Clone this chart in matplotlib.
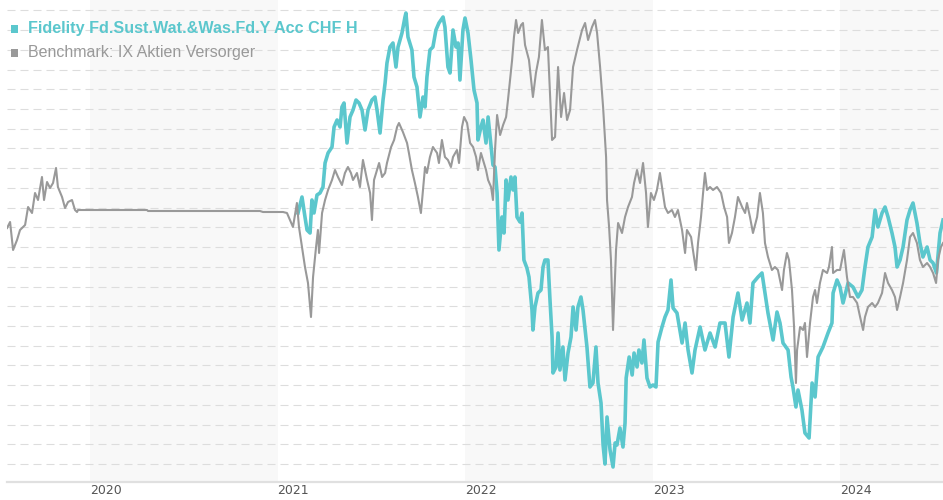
import numpy as np
import matplotlib
matplotlib.use("Agg")
import matplotlib.pyplot as plt
from matplotlib.patches import Rectangle

# values: x in decimal years, y in chart points (grid step ~19.7)
bench_t = [2019.558, 2019.574, 2019.590, 2019.611, 2019.627, 2019.654, 2019.670, 2019.691,
           2019.707, 2019.723, 2019.744, 2019.755, 2019.771, 2019.787, 2019.803, 2019.819,
           2019.829, 2019.851, 2019.867, 2019.883, 2019.904, 2019.920, 2019.931, 2019.936,
           2020.304, 2020.309, 2020.906, 2020.922, 2021.029, 2021.050, 2021.066, 2021.082,
           2021.103, 2021.114, 2021.130, 2021.146, 2021.162, 2021.178, 2021.189, 2021.205,
           2021.215, 2021.221, 2021.237, 2021.253, 2021.269, 2021.290, 2021.306, 2021.322,
           2021.343, 2021.359, 2021.375, 2021.391, 2021.402, 2021.423, 2021.439, 2021.455,
           2021.477, 2021.493, 2021.503, 2021.514, 2021.530, 2021.541, 2021.557, 2021.573,
           2021.583, 2021.605, 2021.621, 2021.637, 2021.647, 2021.668, 2021.690, 2021.700,
           2021.716, 2021.732, 2021.748, 2021.764, 2021.775, 2021.786, 2021.796, 2021.812,
           2021.828, 2021.850, 2021.860, 2021.876, 2021.892, 2021.908, 2021.924, 2021.935,
           2021.956, 2021.967, 2021.983, 2021.994, 2022.010, 2022.026, 2022.042, 2022.058,
           2022.068, 2022.084, 2022.095, 2022.111, 2022.122, 2022.138, 2022.148, 2022.159,
           2022.170, 2022.186, 2022.202, 2022.218, 2022.228, 2022.239, 2022.250, 2022.260,
           2022.271, 2022.282, 2022.298, 2022.308, 2022.319, 2022.340, 2022.361, 2022.377,
           2022.393, 2022.409, 2022.425, 2022.441, 2022.463, 2022.479, 2022.495, 2022.511,
           2022.527, 2022.543, 2022.559, 2022.575, 2022.596, 2022.623, 2022.639, 2022.655,
           2022.676, 2022.692, 2022.703, 2022.719, 2022.735, 2022.751, 2022.756, 2022.767,
           2022.777, 2022.788, 2022.804, 2022.815, 2022.836, 2022.852, 2022.868, 2022.889,
           2022.900, 2022.916, 2022.932, 2022.948, 2022.964, 2022.974, 2022.990, 2023.006,
           2023.022, 2023.038, 2023.054, 2023.065, 2023.081, 2023.102, 2023.118, 2023.134,
           2023.156, 2023.172, 2023.182, 2023.204, 2023.214, 2023.230, 2023.241, 2023.257,
           2023.268, 2023.278, 2023.289, 2023.305, 2023.321, 2023.342, 2023.364, 2023.380,
           2023.396, 2023.406, 2023.422, 2023.438, 2023.454, 2023.476, 2023.492, 2023.502,
           2023.518, 2023.534, 2023.556, 2023.571, 2023.587, 2023.598, 2023.614, 2023.635,
           2023.651, 2023.667, 2023.689, 2023.699, 2023.715, 2023.726, 2023.742, 2023.753,
           2023.763, 2023.769, 2023.785, 2023.801, 2023.811, 2023.822, 2023.838, 2023.854,
           2023.865, 2023.875, 2023.891, 2023.907, 2023.929, 2023.939, 2023.955, 2023.961,
           2023.982, 2023.998, 2024.019, 2024.035, 2024.051, 2024.067, 2024.089, 2024.105,
           2024.121, 2024.131, 2024.147, 2024.169, 2024.185, 2024.200, 2024.222, 2024.238,
           2024.254, 2024.275, 2024.291, 2024.302, 2024.318, 2024.334, 2024.355, 2024.371,
           2024.387, 2024.408, 2024.424, 2024.440, 2024.462, 2024.478, 2024.494, 2024.510,
           2024.520, 2024.536, 2024.547]
bench_v = [236, 242, 214, 224, 234, 239, 257, 251,
           271, 264, 287, 264, 282, 276, 281, 296,
           277, 267, 256, 262, 264, 254, 252, 254,
           254, 253, 253, 252, 252, 251, 244, 237,
           261, 237, 217, 197, 181, 147, 187, 217,
           234, 211, 251, 264, 274, 284, 294, 287,
           279, 291, 297, 291, 284, 291, 277, 304,
           284, 271, 244, 284, 294, 301, 287, 291,
           301, 317, 324, 337, 341, 332, 321, 311,
           294, 281, 267, 251, 274, 297, 291, 307,
           317, 311, 301, 324, 307, 304, 297, 307,
           314, 301, 337, 347, 341, 321, 317, 307,
           294, 311, 304, 294, 284, 277, 264, 314,
           349, 329, 339, 347, 364, 384, 404, 427,
           444, 431, 439, 441, 419, 404, 367, 391,
           407, 444, 414, 417, 324, 327, 397, 347,
           371, 344, 354, 397, 414, 434, 441, 424,
           437, 444, 431, 397, 357, 307, 264, 237,
           204, 134, 214, 241, 231, 247, 257, 267,
           281, 294, 281, 301, 271, 237, 271, 264,
           274, 291, 271, 257, 251, 254, 247, 254,
           234, 211, 234, 227, 214, 194, 221, 247,
           271, 291, 274, 277, 274, 277, 271, 257,
           247, 221, 231, 247, 267, 257, 251, 261,
           247, 231, 247, 271, 251, 221, 207, 194,
           197, 194, 174, 194, 211, 204, 174, 137,
           81, 114, 137, 134, 141, 107, 141, 167,
           174, 161, 181, 194, 191, 197, 217, 191,
           194, 194, 214, 187, 167, 167, 161, 147,
           134, 147, 157, 161, 157, 161, 171, 191,
           181, 174, 167, 154, 167, 181, 204, 227,
           231, 221, 204, 197, 201, 197, 191, 181,
           204, 217, 221]

fund_t = [2021.109, 2021.130, 2021.146, 2021.157, 2021.173, 2021.183, 2021.194, 2021.210,
          2021.226, 2021.242, 2021.253, 2021.269, 2021.290, 2021.301, 2021.317, 2021.333,
          2021.343, 2021.354, 2021.370, 2021.386, 2021.402, 2021.418, 2021.434, 2021.450,
          2021.466, 2021.482, 2021.503, 2021.519, 2021.530, 2021.546, 2021.562, 2021.573,
          2021.583, 2021.599, 2021.615, 2021.631, 2021.642, 2021.663, 2021.679, 2021.684,
          2021.695, 2021.716, 2021.727, 2021.743, 2021.759, 2021.775, 2021.786, 2021.796,
          2021.812, 2021.828, 2021.844, 2021.860, 2021.882, 2021.892, 2021.908, 2021.919,
          2021.935, 2021.951, 2021.962, 2021.972, 2021.988, 2021.999, 2022.015, 2022.031,
          2022.047, 2022.063, 2022.068, 2022.084, 2022.095, 2022.111, 2022.122, 2022.138,
          2022.148, 2022.159, 2022.170, 2022.180, 2022.196, 2022.207, 2022.218, 2022.228,
          2022.244, 2022.255, 2022.265, 2022.276, 2022.292, 2022.303, 2022.313, 2022.329,
          2022.340, 2022.356, 2022.361, 2022.372, 2022.388, 2022.404, 2022.415, 2022.425,
          2022.441, 2022.452, 2022.463, 2022.468, 2022.484, 2022.495, 2022.505, 2022.521,
          2022.532, 2022.548, 2022.564, 2022.575, 2022.591, 2022.601, 2022.617, 2022.628,
          2022.649, 2022.665, 2022.681, 2022.697, 2022.708, 2022.724, 2022.735, 2022.745,
          2022.756, 2022.772, 2022.788, 2022.799, 2022.809, 2022.825, 2022.841, 2022.852,
          2022.858, 2022.874, 2022.890, 2022.900, 2022.916, 2022.926, 2022.942, 2022.953,
          2022.969, 2022.985, 2023.001, 2023.017, 2023.028, 2023.049, 2023.065, 2023.081,
          2023.097, 2023.108, 2023.129, 2023.156, 2023.172, 2023.188, 2023.209, 2023.225,
          2023.252, 2023.278, 2023.305, 2023.332, 2023.358, 2023.385, 2023.406, 2023.428,
          2023.454, 2023.476, 2023.502, 2023.518, 2023.534, 2023.561, 2023.582, 2023.598,
          2023.614, 2023.641, 2023.662, 2023.678, 2023.694, 2023.721, 2023.737, 2023.747,
          2023.763, 2023.774, 2023.795, 2023.811, 2023.833, 2023.849, 2023.865, 2023.881,
          2023.907, 2023.934, 2023.955, 2023.961, 2023.982, 2023.998, 2024.014, 2024.041,
          2024.067, 2024.094, 2024.115, 2024.131, 2024.147, 2024.169, 2024.185, 2024.200,
          2024.222, 2024.238, 2024.254, 2024.275, 2024.291, 2024.302, 2024.318, 2024.334,
          2024.355, 2024.371, 2024.387, 2024.408, 2024.424, 2024.440, 2024.462, 2024.478,
          2024.494, 2024.512, 2024.531, 2024.547]
fund_v = [251, 267, 247, 234, 231, 264, 251, 269,
          271, 277, 301, 311, 317, 337, 344, 337,
          357, 361, 321, 347, 354, 364, 361, 354,
          334, 354, 364, 367, 354, 331, 364, 381,
          401, 417, 421, 397, 417, 431, 447, 451,
          427, 414, 387, 377, 347, 367, 357, 387,
          414, 417, 434, 441, 447, 437, 397, 391,
          434, 417, 421, 384, 434, 446, 431, 404,
          374, 361, 324, 337, 344, 321, 347, 317,
          299, 297, 271, 214, 247, 231, 284, 264,
          287, 274, 287, 247, 242, 251, 204, 196,
          187, 154, 134, 157, 171, 174, 197, 204,
          204, 164, 127, 91, 97, 131, 94, 117,
          84, 111, 127, 157, 134, 157, 167, 154,
          117, 77, 81, 117, 81, 61, 19, 0,
          47, 14, -3, 21, 19, 36, 17, 41,
          86, 107, 89, 111, 97, 114, 101, 124,
          86, 77, 79, 77, 122, 137, 147, 154,
          184, 156, 151, 121, 141, 114, 91, 114,
          137, 114, 131, 117, 141, 141, 107, 147,
          171, 144, 161, 141, 181, 187, 191, 171,
          151, 124, 152, 141, 121, 114, 87, 77,
          57, 74, 54, 31, 26, 81, 67, 107,
          117, 131, 141, 171, 184, 177, 161, 181,
          177, 167, 174, 197, 217, 227, 254, 237,
          251, 257, 247, 231, 217, 197, 204, 217,
          244, 254, 261, 241, 221, 207, 217, 204,
          201, 191, 231, 244]

years = [2020, 2021, 2022, 2023, 2024]
fund_name = "Fidelity Fd.Sust.Wat.&Was.Fd.Y Acc CHF H"
bench_name = "Benchmark: IX Aktien Versorger"

teal = "#5bc7cd"
grey = "#999999"

fig = plt.figure(figsize=(9.43, 5.0), dpi=100)
ax = fig.add_axes([7 / 943, 18 / 500, 936 / 943, 482 / 500])
ax.set_xlim(2019.5576, 2024.5469)
ax.set_ylim(-18, 464)

# shaded alternate years
for i, y in enumerate(years):
    if i % 2 == 0:
        ax.axvspan(y, y + 1, color="#f8f8f8", lw=0, zorder=0)

for gv in np.arange(0, 460, 19.72):
    ax.axhline(gv, color="#dddddd", lw=0.8, dashes=(7.2, 4.5), zorder=1)

ax.plot(fund_t, fund_v, color=teal, lw=2.6, zorder=3, solid_joinstyle="round")
ax.plot(bench_t, bench_v, color=grey, lw=1.5, zorder=4, solid_joinstyle="round")

for s in ["top", "left", "right"]:
    ax.spines[s].set_visible(False)
ax.spines["bottom"].set_color("#e0e0e0")
ax.spines["bottom"].set_linewidth(1.6)
ax.set_yticks([])
ax.set_xticks(years)
ax.set_xticklabels([str(y) for y in years], ha="left", fontsize=9, color="#555555")
ax.tick_params(axis="x", length=0, pad=1.5)

# legend
fig.patches.append(Rectangle((10.5 / 943, 1 - 33 / 500), 7.5 / 943, 8 / 500,
                             transform=fig.transFigure, color=teal, lw=0))
fig.patches.append(Rectangle((10.5 / 943, 1 - 57 / 500), 7.5 / 943, 8 / 500,
                             transform=fig.transFigure, color=grey, lw=0))
fig.text(28 / 943, 1 - 29 / 500, fund_name, color=teal, fontsize=11.6, fontweight="bold",
         family="Liberation Sans", va="center")
fig.text(28 / 943, 1 - 53 / 500, bench_name, color=grey, fontsize=11.5,
         family="Liberation Sans", va="center")

fig.savefig("out.png", dpi=100)
